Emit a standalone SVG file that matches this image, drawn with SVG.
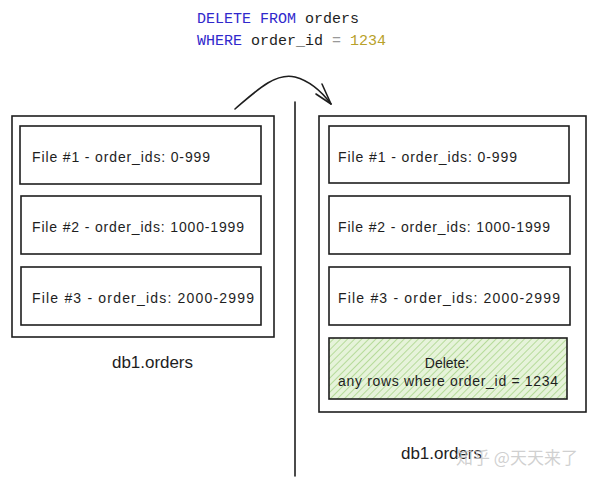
<svg xmlns="http://www.w3.org/2000/svg" width="600" height="480" viewBox="0 0 600 480">
<style>
.box{fill:#fff;stroke:#1e1e1e;stroke-width:1.6}
.lbl{font-family:"Liberation Sans","Noto Sans",sans-serif;font-size:14px;fill:#1e1e1e}
.db{font-size:17px}
.code{font-family:"Liberation Mono","DejaVu Sans Mono",monospace;font-size:15px;fill:#1e1e1e}
.kw{fill:#3028cc}
.num{fill:#b8a12a}
.op{fill:#999}
.conn{fill:none;stroke:#1e1e1e;stroke-width:1.6;stroke-linecap:round}
</style>
<defs>
<pattern id="hatch" patternUnits="userSpaceOnUse" width="5" height="5" patternTransform="rotate(45)">
<rect width="5" height="5" fill="#e6f3da"/>
<line x1="0" y1="0" x2="0" y2="5" stroke="#9ccf78" stroke-width="1.3"/>
</pattern>
</defs>
<rect width="600" height="480" fill="#fff"/>
<g id="sql">
<text class="code" x="197" y="23"><tspan class="kw">DELETE FROM</tspan> orders</text>
<text class="code" x="197" y="45"><tspan class="kw">WHERE</tspan> order_id <tspan class="op">=</tspan> <tspan class="num">1234</tspan></text>
</g>
<g id="connectors">
<path class="conn" d="M235 109 C255 92 275 72 295 77 C310 81 322 92 331 104"/>
<path class="conn" d="M331 104 L316 94 M331 104 L322 84"/>
<line class="conn" x1="295" y1="102" x2="295" y2="476"/>
</g>
<g id="left-db">
<rect class="box" x="12" y="116" width="262" height="221"/>
<text class="lbl db" x="112" y="368" textLength="81">db1.orders</text>
</g>
<g id="left-file1">
<rect class="box" x="20" y="126" width="241" height="58"/>
<text class="lbl" x="32" y="162" textLength="178">File #1 - order_ids: 0-999</text>
</g>
<g id="left-file2">
<rect class="box" x="21" y="196" width="240" height="58"/>
<text class="lbl" x="32" y="232" textLength="212">File #2 - order_ids: 1000-1999</text>
</g>
<g id="left-file3">
<rect class="box" x="21" y="267" width="240" height="58"/>
<text class="lbl" x="32" y="303" textLength="222">File #3 - order_ids: 2000-2999</text>
</g>
<g id="right-db">
<rect class="box" x="319" y="116" width="267" height="296"/>
<text class="lbl db" x="401" y="459" textLength="81">db1.orders</text>
</g>
<g id="right-file1">
<rect class="box" x="329" y="126" width="240" height="57"/>
<text class="lbl" x="338" y="162" textLength="179">File #1 - order_ids: 0-999</text>
</g>
<g id="right-file2">
<rect class="box" x="329" y="196" width="241" height="58"/>
<text class="lbl" x="338" y="232" textLength="212">File #2 - order_ids: 1000-1999</text>
</g>
<g id="right-file3">
<rect class="box" x="329" y="267" width="241" height="58"/>
<text class="lbl" x="338" y="303" textLength="222">File #3 - order_ids: 2000-2999</text>
</g>
<g id="right-delete">
<rect x="329" y="338" width="238" height="61" fill="url(#hatch)" stroke="#1e1e1e" stroke-width="1.6"/>
<text class="lbl" x="447" y="368" text-anchor="middle">Delete:</text>
<text class="lbl" x="448" y="386" text-anchor="middle" textLength="220">any rows where order_id = 1234</text>
</g>
<text x="456" y="464" font-family="'Noto Sans CJK SC',sans-serif" font-size="17" fill="#c8c8c8" fill-opacity="0.85">知乎 @天天来了</text>
</svg>
